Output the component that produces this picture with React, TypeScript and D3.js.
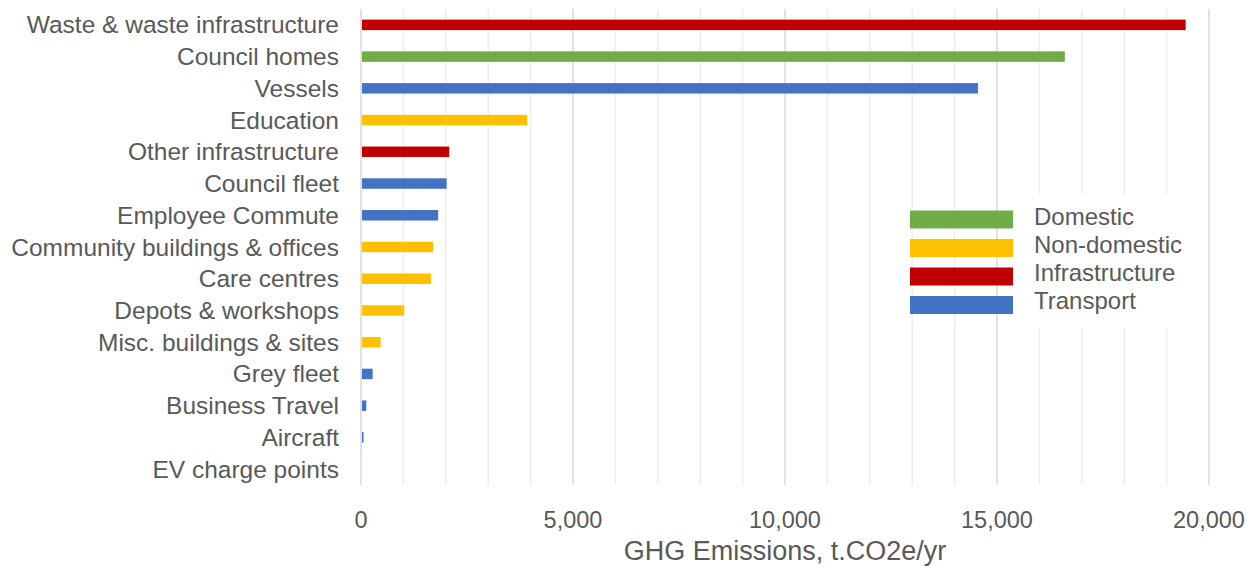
import React, { useEffect, useRef } from "react";
import * as d3 from "d3";

const categories = [
  "Waste & waste infrastructure",
  "Council homes",
  "Vessels",
  "Education",
  "Other infrastructure",
  "Council fleet",
  "Employee Commute",
  "Community buildings & offices",
  "Care centres",
  "Depots & workshops",
  "Misc. buildings & sites",
  "Grey fleet",
  "Business Travel",
  "Aircraft",
  "EV charge points",
];

const emissions = [
  19450, 16600, 14550, 3920, 2080, 2020, 1820, 1700, 1650, 1020, 465, 275, 125, 60, 0,
];

const sectors = [
  "Infrastructure",
  "Domestic",
  "Transport",
  "Non-domestic",
  "Infrastructure",
  "Transport",
  "Transport",
  "Non-domestic",
  "Non-domestic",
  "Non-domestic",
  "Non-domestic",
  "Transport",
  "Transport",
  "Transport",
  "Transport",
];

const legendLabels = ["Domestic", "Non-domestic", "Infrastructure", "Transport"];
const sectorColors = ["#70AD47", "#FFC000", "#C00000", "#4472C4"];

const xTicks = [0, 5000, 10000, 15000, 20000];
const axisTitle = "GHG Emissions, t.CO2e/yr";

const W = 1258;
const H = 568;
const FONT = "'Liberation Sans', Arial, sans-serif";
const TEXT = "#595959";

export default function App() {
  const ref = useRef<SVGSVGElement | null>(null);

  useEffect(() => {
    const svg = d3.select(ref.current);
    svg.selectAll("*").remove();

    const x = d3.scaleLinear().domain([0, 20000]).range([361, 1209]);
    const y = d3
      .scaleBand<string>()
      .domain(categories)
      .range([9, 485])
      .paddingInner(0.67)
      .paddingOuter(0.335);
    const color = d3.scaleOrdinal<string, string>().domain(legendLabels).range(sectorColors);

    // minor gridlines
    const minor = d3.range(1000, 20001, 1000).filter((v) => v % 5000 !== 0);
    svg
      .append("g")
      .selectAll("line")
      .data(minor)
      .join("line")
      .attr("x1", (d) => x(d))
      .attr("x2", (d) => x(d))
      .attr("y1", 9)
      .attr("y2", 485)
      .attr("stroke", "#ededed")
      .attr("stroke-width", 1.5);

    // major gridlines
    svg
      .append("g")
      .selectAll("line")
      .data(xTicks)
      .join("line")
      .attr("x1", (d) => x(d))
      .attr("x2", (d) => x(d))
      .attr("y1", 9)
      .attr("y2", 485)
      .attr("stroke", "#d9d9d9")
      .attr("stroke-width", 1.5);

    // bars
    svg
      .append("g")
      .selectAll("rect")
      .data(categories)
      .join("rect")
      .attr("x", x(0) + 1)
      .attr("y", (d) => y(d)!)
      .attr("width", (_d, i) => Math.max(0, x(emissions[i]) - x(0) - 1))
      .attr("height", y.bandwidth())
      .attr("fill", (_d, i) => color(sectors[i]));

    // category labels
    svg
      .append("g")
      .selectAll("text")
      .data(categories)
      .join("text")
      .attr("x", 339)
      .attr("y", (d) => y(d)! + y.bandwidth() / 2 + 8.5)
      .attr("text-anchor", "end")
      .attr("font-family", FONT)
      .attr("font-size", 24.5)
      .attr("fill", TEXT)
      .text((d) => d);

    // x tick labels
    svg
      .append("g")
      .selectAll("text")
      .data(xTicks)
      .join("text")
      .attr("x", (d) => x(d))
      .attr("y", 528)
      .attr("text-anchor", "middle")
      .attr("font-family", FONT)
      .attr("font-size", 23.5)
      .attr("fill", TEXT)
      .text((d) => d3.format(",")(d));

    svg
      .append("text")
      .attr("x", 785)
      .attr("y", 560)
      .attr("text-anchor", "middle")
      .attr("font-family", FONT)
      .attr("font-size", 27)
      .attr("fill", TEXT)
      .text(axisTitle);

    // legend
    const lg = svg.append("g");
    lg.append("rect")
      .attr("x", 1018)
      .attr("y", 194)
      .attr("width", 182)
      .attr("height", 134)
      .attr("fill", "#ffffff");
    lg.selectAll("rect.sw")
      .data(legendLabels)
      .join("rect")
      .attr("class", "sw")
      .attr("x", 910)
      .attr("y", (_d, i) => 210.5 + i * 28.5)
      .attr("width", 103)
      .attr("height", 18)
      .attr("fill", (d) => color(d));
    lg.selectAll("text")
      .data(legendLabels)
      .join("text")
      .attr("x", 1034)
      .attr("y", (_d, i) => 224.5 + i * 28)
      .attr("font-family", FONT)
      .attr("font-size", 24)
      .attr("fill", TEXT)
      .text((d) => d);
  }, []);

  return (
    <svg
      ref={ref}
      width={W}
      height={H}
      style={{ position: "absolute", left: 0, top: 0, background: "#fff" }}
    />
  );
}
